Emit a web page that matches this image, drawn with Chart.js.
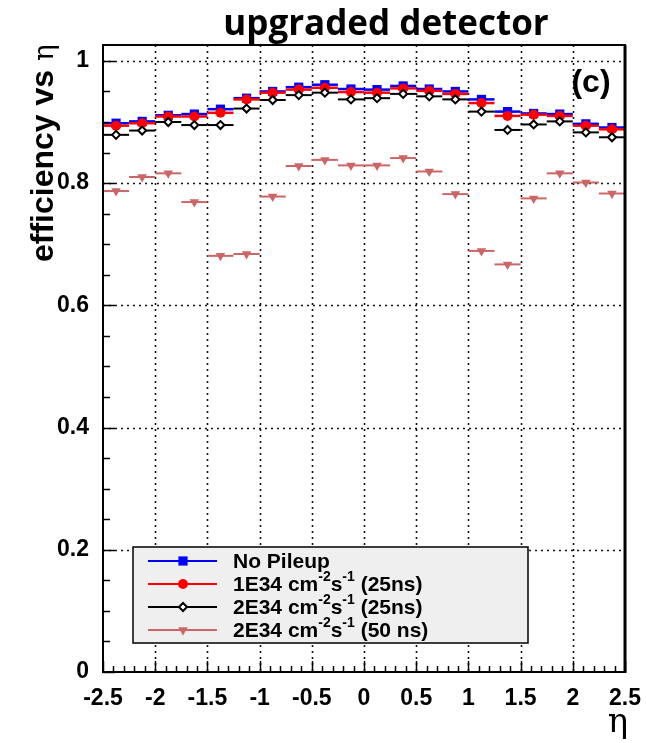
<!DOCTYPE html>
<html>
<head>
<meta charset="utf-8">
<title>upgraded detector</title>
<script src="https://cdn.jsdelivr.net/npm/chart.js@4/dist/chart.umd.min.js"></script>
<style>
  html, body { margin: 0; padding: 0; background: #fff; }
  canvas { display: block; }
</style>
</head>
<body>
<canvas id="eff" width="646" height="743"></canvas>
<script>
// eta bin centres (bin width 0.25)
const etaBins = [-2.375, -2.125, -1.875, -1.625, -1.375, -1.125, -0.875, -0.625, -0.375, -0.125,
                 0.125, 0.375, 0.625, 0.875, 1.125, 1.375, 1.625, 1.875, 2.125, 2.375];
const binHalfWidth = 0.125;

const noPileup = [0.898, 0.901, 0.911, 0.913, 0.921, 0.939, 0.950, 0.957, 0.961, 0.954,
                  0.953, 0.959, 0.954, 0.950, 0.937, 0.917, 0.914, 0.913, 0.897, 0.891];
const lumi1e34_25ns = [0.894, 0.898, 0.909, 0.909, 0.915, 0.937, 0.948, 0.953, 0.956, 0.949,
                       0.948, 0.955, 0.951, 0.946, 0.931, 0.910, 0.912, 0.910, 0.894, 0.888];
const lumi2e34_25ns = [0.879, 0.886, 0.900, 0.895, 0.895, 0.922, 0.936, 0.944, 0.948, 0.937,
                       0.939, 0.946, 0.942, 0.937, 0.917, 0.887, 0.896, 0.901, 0.883, 0.875];
const lumi2e34_50ns = [0.787, 0.810, 0.816, 0.769, 0.681, 0.684, 0.778, 0.828, 0.838, 0.829,
                       0.829, 0.841, 0.819, 0.782, 0.689, 0.667, 0.775, 0.816, 0.801, 0.783];

const xTicks = [-2.5, -2, -1.5, -1, -0.5, 0, 0.5, 1, 1.5, 2, 2.5];
const yTicks = [0, 0.2, 0.4, 0.6, 0.8, 1];

// legend text pieces: [text, isSuperscript]
const legendLabels = [
  [['No Pileup', false]],
  [['1E34 cm', false], ['-2', true], ['s', false], ['-1', true], [' (25ns)', false]],
  [['2E34 cm', false], ['-2', true], ['s', false], ['-1', true], [' (25ns)', false]],
  [['2E34 cm', false], ['-2', true], ['s', false], ['-1', true], [' (50 ns)', false]]
];

const SANS = '"Liberation Sans", Arial, sans-serif';
const PINK = '#cc6666';

const toPoints = ys => etaBins.map((x, i) => ({x: x, y: ys[i]}));

const series = [
  {label: 'No Pileup', data: toPoints(noPileup), color: '#0000ff', order: 4,
   pointStyle: 'rect', pointRadius: 6.5, pointBackgroundColor: '#0000ff', pointBorderColor: '#0000ff',
   pointBorderWidth: 0, pointRotation: 0, barWidth: 2.5},
  {label: '1E34 (25ns)', data: toPoints(lumi1e34_25ns), color: '#ff0000', order: 3,
   pointStyle: 'circle', pointRadius: 5, pointBackgroundColor: '#ff0000', pointBorderColor: '#ff0000',
   pointBorderWidth: 0, pointRotation: 0, barWidth: 2.5},
  {label: '2E34 (25ns)', data: toPoints(lumi2e34_25ns), color: '#000000', order: 2,
   pointStyle: 'rectRot', pointRadius: 4, pointBackgroundColor: '#ffffff', pointBorderColor: '#000000',
   pointBorderWidth: 2, pointRotation: 0, barWidth: 2},
  {label: '2E34 (50 ns)', data: toPoints(lumi2e34_50ns), color: PINK, order: 1,
   pointStyle: 'triangle', pointRadius: 5.5, pointBackgroundColor: PINK, pointBorderColor: PINK,
   pointBorderWidth: 0, pointRotation: 180, barWidth: 2}
];

function drawMarker(ctx, ds, x, y) {
  const opts = {
    pointStyle: ds.pointStyle, radius: ds.pointRadius, rotation: ds.pointRotation,
    borderWidth: ds.pointBorderWidth
  };
  ctx.save();
  ctx.fillStyle = ds.pointBackgroundColor;
  ctx.strokeStyle = ds.pointBorderColor;
  ctx.lineWidth = ds.pointBorderWidth;
  Chart.helpers.drawPoint(ctx, opts, x, y);
  ctx.restore();
}

function drawPieces(ctx, pieces, x, y, size, weight) {
  for (const [txt, sup] of pieces) {
    ctx.font = weight + ' ' + (sup ? Math.round(size * 0.66) : size) + 'px ' + SANS;
    ctx.fillText(txt, x, sup ? y - size * 0.36 : y);
    x += ctx.measureText(txt).width;
  }
}

const rootStyle = {
  id: 'rootStyle',
  beforeDatasetsDraw(chart) {
    const {ctx, chartArea: a, scales: {x, y}} = chart;
    ctx.save();
    ctx.strokeStyle = '#111';
    ctx.lineWidth = 1.6;
    ctx.setLineDash([2, 4]);
    xTicks.slice(1, -1).forEach(v => {
      const px = Math.round(x.getPixelForValue(v)) + 0.5;
      ctx.beginPath(); ctx.moveTo(px, a.top); ctx.lineTo(px, a.bottom); ctx.stroke();
    });
    yTicks.slice(1).forEach(v => {
      const py = Math.round(y.getPixelForValue(v)) + 0.5;
      ctx.beginPath(); ctx.moveTo(a.left, py); ctx.lineTo(a.right, py); ctx.stroke();
    });
    ctx.restore();
  },
  beforeDatasetDraw(chart, args) {
    // horizontal bars spanning each eta bin
    const {ctx, scales: {x, y}} = chart;
    const ds = chart.data.datasets[args.index];
    ctx.save();
    ctx.strokeStyle = ds.color;
    ctx.lineWidth = ds.barWidth;
    ds.data.forEach(p => {
      const py = y.getPixelForValue(p.y);
      ctx.beginPath();
      ctx.moveTo(x.getPixelForValue(p.x - binHalfWidth), py);
      ctx.lineTo(x.getPixelForValue(p.x + binHalfWidth), py);
      ctx.stroke();
    });
    ctx.restore();
  },
  afterDraw(chart) {
    const {ctx, chartArea: a, scales: {x, y}} = chart;
    ctx.save();
    ctx.strokeStyle = '#000';

    // minor and major tick marks, pointing into the frame
    ctx.lineWidth = 1.5;
    for (let i = 0; i <= 20; i++) {
      const v = i * 0.05;
      const py = Math.round(y.getPixelForValue(v)) + 0.5;
      const len = i % 4 === 0 ? 12 : 7;
      ctx.beginPath(); ctx.moveTo(a.left, py); ctx.lineTo(a.left + len, py); ctx.stroke();
    }
    for (let i = 0; i <= 50; i++) {
      const v = -2.5 + i * 0.1;
      const px = Math.round(x.getPixelForValue(v)) + 0.5;
      const len = i % 5 === 0 ? 11 : 6;
      ctx.beginPath(); ctx.moveTo(px, a.bottom); ctx.lineTo(px, a.bottom - len); ctx.stroke();
    }

    // frame
    ctx.lineWidth = 2;
    ctx.strokeRect(a.left, a.top, a.right - a.left, a.bottom - a.top);
    ctx.lineWidth = 3;
    ctx.beginPath(); ctx.moveTo(a.right, a.top); ctx.lineTo(a.right, a.bottom + 1); ctx.stroke();

    // legend box
    const lx = 133, ly = 547, lw = 395, lh = 96;
    ctx.fillStyle = '#efefef';
    ctx.fillRect(lx, ly, lw, lh);
    ctx.lineWidth = 1.5;
    ctx.strokeRect(lx, ly, lw, lh);
    const rows = [561, 584, 607, 630];
    chart.data.datasets.forEach((ds, i) => {
      const ry = rows[i];
      ctx.strokeStyle = ds.color;
      ctx.lineWidth = 2;
      ctx.beginPath(); ctx.moveTo(148, ry); ctx.lineTo(217, ry); ctx.stroke();
      drawMarker(ctx, ds, 183, ry);
      ctx.fillStyle = '#000';
      ctx.textBaseline = 'middle';
      ctx.textAlign = 'left';
      drawPieces(ctx, legendLabels[i], 233, ry + 1, 21, 'bold');
    });

    // title
    ctx.fillStyle = '#000';
    ctx.textAlign = 'center';
    ctx.textBaseline = 'alphabetic';
    ctx.font = 'bold 35px "Open Sans", sans-serif';
    ctx.fillText('upgraded detector', 386, 35);

    // panel tag
    ctx.font = 'bold 32px ' + SANS;
    ctx.textBaseline = 'middle';
    ctx.fillText('(c)', 591, 83);

    // x axis title
    ctx.font = '34px "DejaVu Serif", serif';
    ctx.textBaseline = 'alphabetic';
    ctx.fillText('\u03b7', 618, 732);

    // y axis title, rotated
    ctx.save();
    ctx.translate(53, 262);
    ctx.rotate(-Math.PI / 2);
    ctx.textAlign = 'left';
    ctx.font = 'bold 32px ' + SANS;
    ctx.fillText('efficiency vs ', 0, 0);
    const w = ctx.measureText('efficiency vs ').width;
    ctx.font = '28px "DejaVu Serif", serif';
    ctx.fillText('\u03b7', w, 0);
    ctx.restore();

    ctx.restore();
  }
};

new Chart(document.getElementById('eff').getContext('2d'), {
  type: 'scatter',
  data: {
    datasets: series.map(s => ({...s, showLine: false}))
  },
  options: {
    responsive: false,
    animation: false,
    devicePixelRatio: 1,
    layout: {padding: {top: 45, right: 16, left: 0, bottom: 0}},
    plugins: {
      legend: {display: false},
      tooltip: {enabled: false}
    },
    scales: {
      x: {
        type: 'linear',
        min: -2.5,
        max: 2.5,
        afterBuildTicks: s => { s.ticks = xTicks.map(v => ({value: v})); },
        afterFit: s => { s.height = 71; },
        grid: {display: false},
        border: {display: false},
        ticks: {
          color: '#000',
          font: {family: SANS, size: 23, weight: 'bold'},
          padding: 5,
          maxRotation: 0,
          autoSkip: false,
          callback: v => String(v)
        }
      },
      y: {
        min: 0,
        max: 1.026,
        afterBuildTicks: s => { s.ticks = yTicks.map(v => ({value: v})); },
        afterFit: s => { s.width = 103; },
        grid: {display: false},
        border: {display: false},
        ticks: {
          color: '#000',
          font: {family: SANS, size: 23, weight: 'bold'},
          padding: 6,
          callback: v => String(v)
        }
      }
    }
  },
  plugins: [rootStyle]
});
</script>
</body>
</html>
